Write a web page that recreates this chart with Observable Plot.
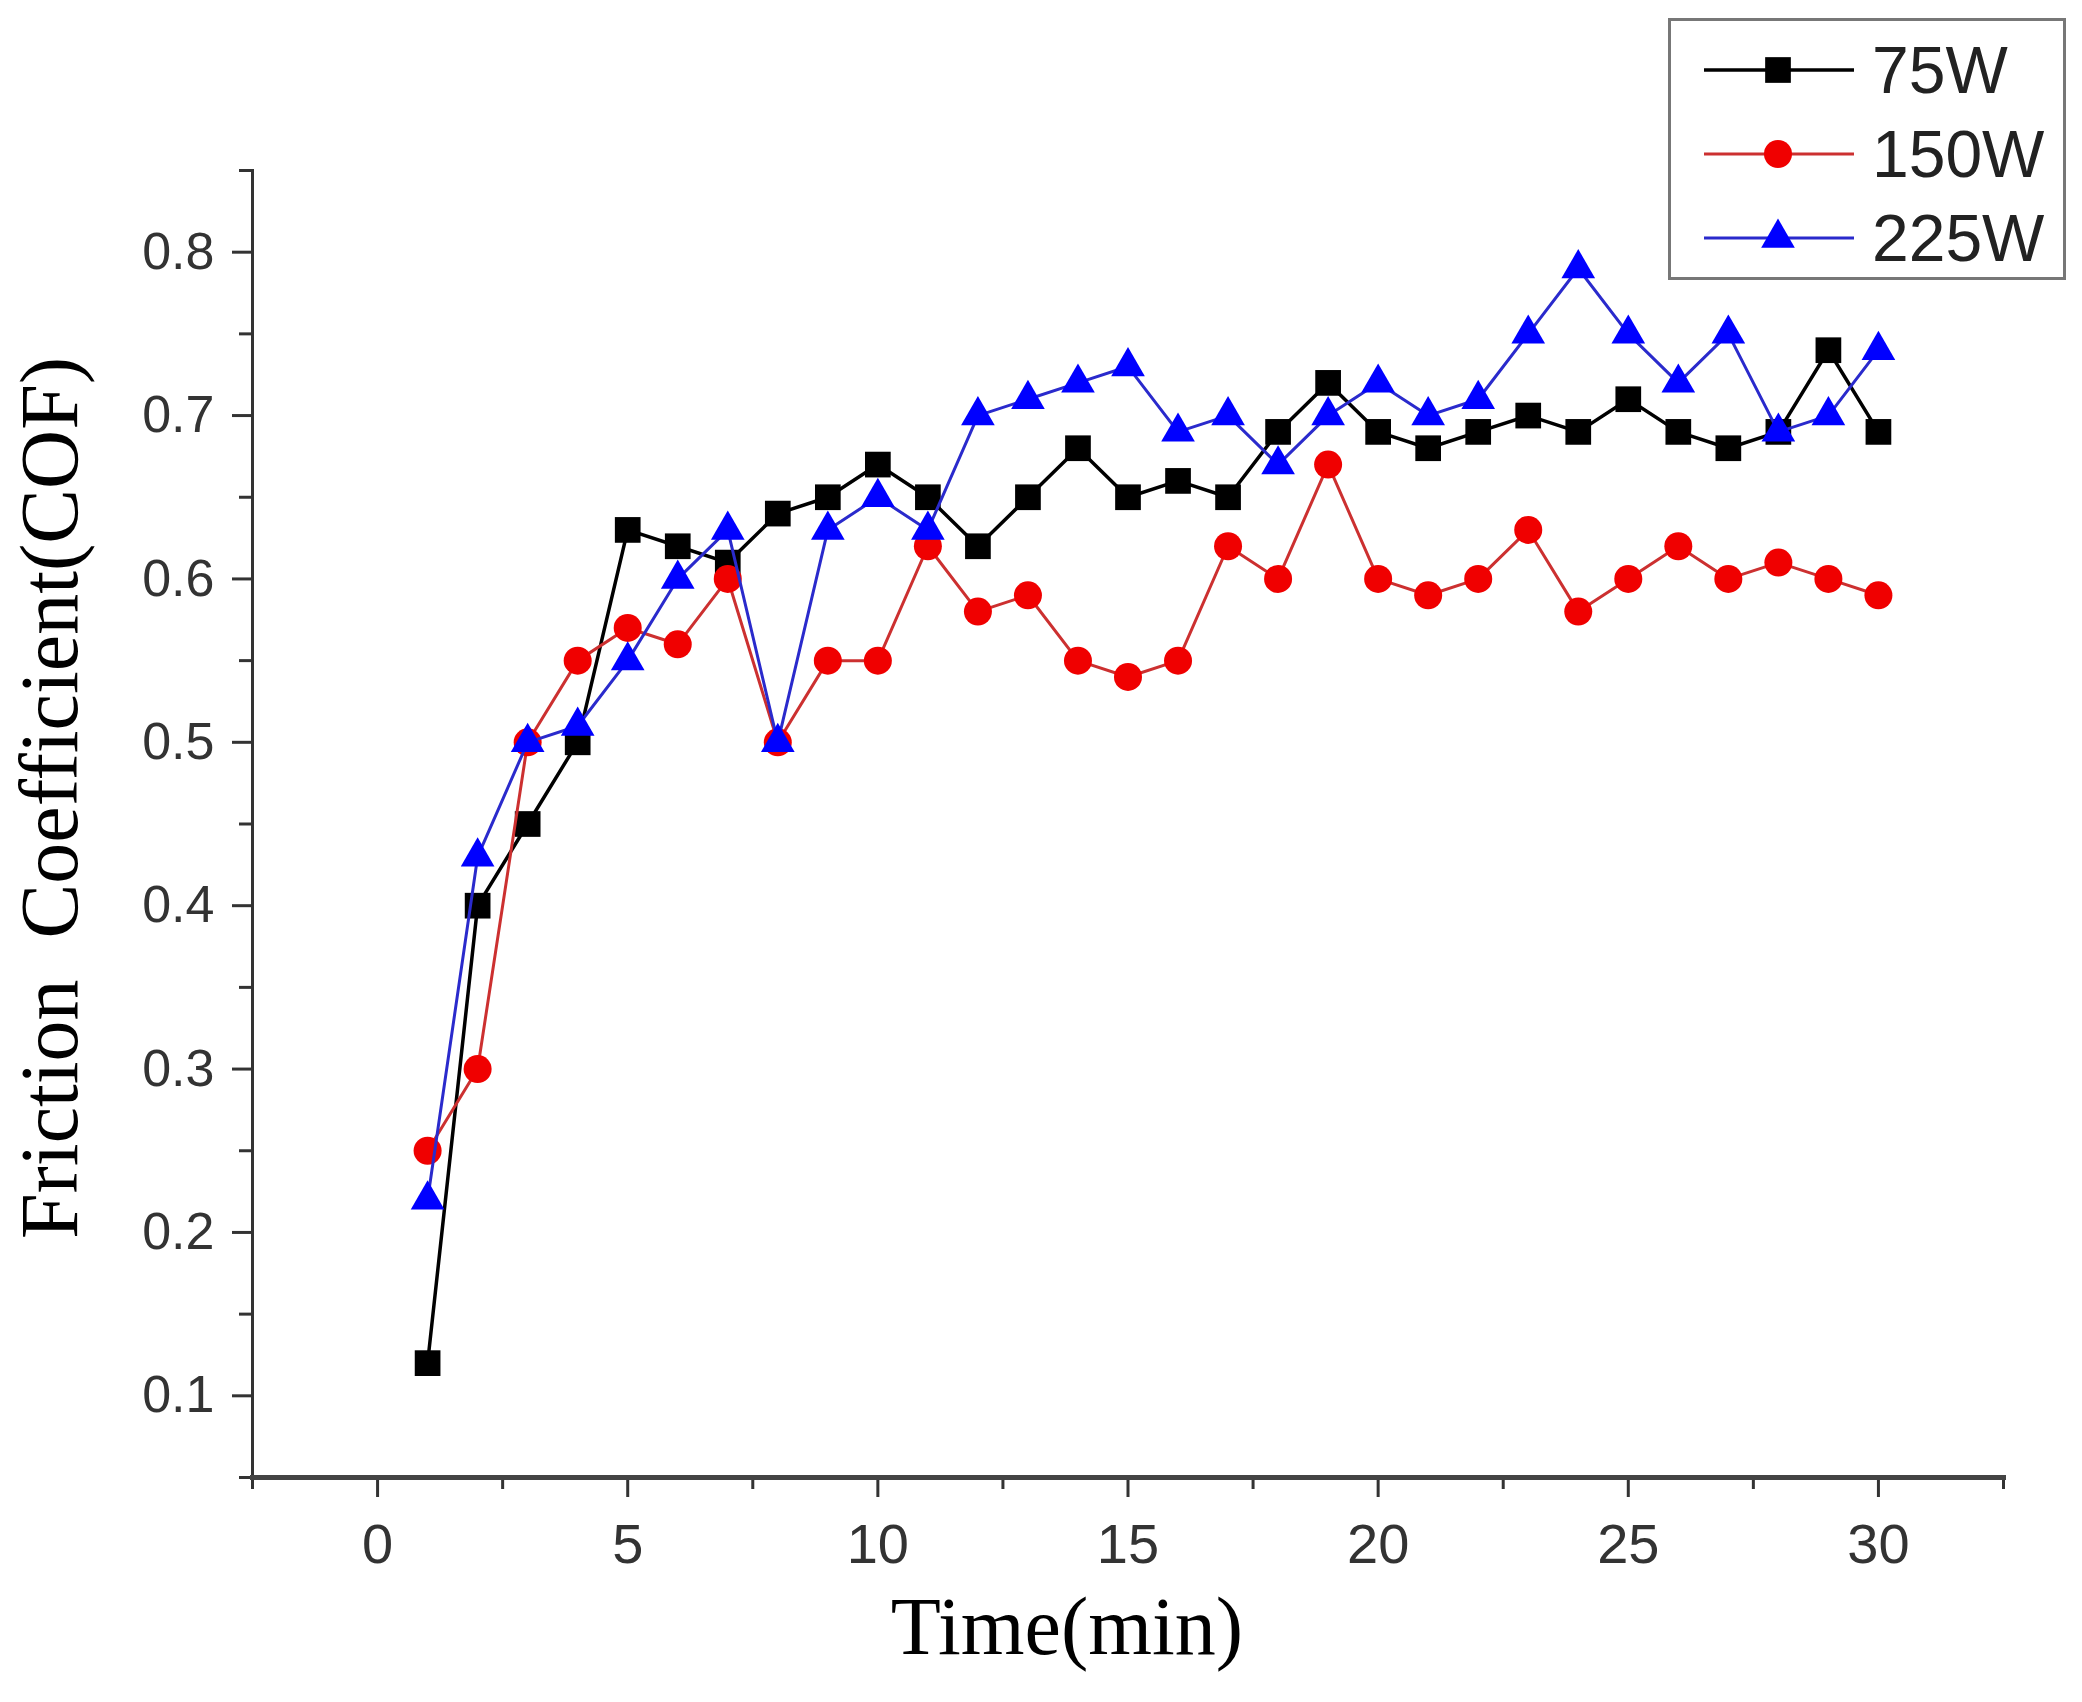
<!DOCTYPE html>
<html><head><meta charset="utf-8">
<script src="https://cdn.jsdelivr.net/npm/d3@7"></script>
<script src="https://cdn.jsdelivr.net/npm/@observablehq/plot@0.6"></script>
<style>
body{margin:0;background:#fff;}
#wrap{position:relative;width:2082px;height:1702px;background:#fff;}
#legend{position:absolute;left:1668px;top:18px;}
</style></head><body><div id="wrap"></div>
<script>
const time = [1,2,3,4,5,6,7,8,9,10,11,12,13,14,15,16,17,18,19,20,21,22,23,24,25,26,27,28,29,30];
const cof75  = [0.12,0.40,0.45,0.50,0.63,0.62,0.61,0.64,0.65,0.67,0.65,0.62,0.65,0.68,0.65,0.66,0.65,0.69,0.72,0.69,0.68,0.69,0.70,0.69,0.71,0.69,0.68,0.69,0.74,0.69];
const cof150 = [0.25,0.30,0.50,0.55,0.57,0.56,0.60,0.50,0.55,0.55,0.62,0.58,0.59,0.55,0.54,0.55,0.62,0.60,0.67,0.60,0.59,0.60,0.63,0.58,0.60,0.62,0.60,0.61,0.60,0.59];
const cof225 = [0.22,0.43,0.50,0.51,0.55,0.60,0.63,0.50,0.63,0.65,0.63,0.70,0.71,0.72,0.73,0.69,0.70,0.67,0.70,0.72,0.70,0.71,0.75,0.79,0.75,0.72,0.75,0.69,0.70,0.74];
const seriesNames = ["75W","150W","225W"];
const xMajorTicks = [0,5,10,15,20,25,30];
const xMinorTicks = [-2.5,2.5,7.5,12.5,17.5,22.5,27.5,32.5];
const yMajorTicks = [0.1,0.2,0.3,0.4,0.5,0.6,0.7,0.8];
const yMinorTicks = [0.05,0.15,0.25,0.35,0.45,0.55,0.65,0.75,0.85];
const xTitle = "Time(min)";
const yTitle = "Friction\u00a0 Coefficient(COF)";

const rows = (vals, name) => time.map((t, i) => ({time: t, cof: vals[i], series: name}));
const styles = [
  {stroke: "#000000", fill: "#000000", symbol: "square", r: 14.5, sw: 3.5},
  {stroke: "#cc3030", fill: "#f00000", symbol: "circle", r: 14, sw: 3},
  {stroke: "#2a2acc", fill: "#0000ff", symbol: "triangle", r: 12.5, sw: 3}
];
const seriesData = [cof75, cof150, cof225];
const series = seriesNames.map((name, i) => ({name, data: rows(seriesData[i], name), ...styles[i]}));

const dataMarks = [];
for (const s of series) {
  dataMarks.push(Plot.line(s.data, {x: "time", y: "cof", stroke: s.stroke, strokeWidth: s.sw}));
  dataMarks.push(Plot.dot(s.data, {x: "time", y: "cof", symbol: s.symbol, r: s.r, fill: s.fill, stroke: "none"}));
}

const sans = "'Liberation Sans', Arial, sans-serif";
const serif = "'Liberation Serif', 'Times New Roman', serif";

const chart = Plot.plot({
  width: 2082, height: 1702,
  marginLeft: 252, marginRight: 79, marginTop: 170, marginBottom: 225,
  x: {domain: [-2.5, 32.5]},
  y: {domain: [0.05, 0.85]},
  style: {background: "#fff", fontFamily: sans, color: "#333"},
  marks: [
    Plot.axisY({ticks: yMajorTicks, tickSize: 20, tickPadding: 18, tickFormat: d3.format(".1f"), fontSize: 52, label: null, strokeWidth: 3, stroke: "#333"}),
    Plot.axisY({ticks: yMinorTicks, tickSize: 13, text: null, label: null, strokeWidth: 3, stroke: "#333"}),
    Plot.axisX({ticks: xMajorTicks, tickSize: 20, tickPadding: 26, fontSize: 56, label: null, strokeWidth: 3, stroke: "#333"}),
    Plot.axisX({ticks: xMinorTicks, tickSize: 12, text: null, label: null, strokeWidth: 3, stroke: "#333"}),
    Plot.frame({anchor: "left", stroke: "#333", strokeWidth: 3}),
    Plot.frame({anchor: "bottom", stroke: "#444", strokeWidth: 5}),
    Plot.text([xTitle], {text: d => d, frameAnchor: "bottom", textAnchor: "middle", dy: 150, dx: -61, fontSize: 82, fontFamily: serif, fill: "#000", lineAnchor: "middle"}),
    Plot.text([yTitle], {text: d => d, frameAnchor: "left", textAnchor: "middle", rotate: -90, dx: -202, dy: -26, fontSize: 82, fontFamily: serif, fill: "#000", lineAnchor: "middle"}),
    ...dataMarks
  ]
});
document.getElementById("wrap").appendChild(chart);

// legend
const symMap = {square: d3.symbolSquare, circle: d3.symbolCircle, triangle: d3.symbolTriangle};
const leg = d3.select("#wrap").append("svg").attr("id", "legend").attr("width", 400).attr("height", 264);
leg.append("rect").attr("x", 1.5).attr("y", 1.5).attr("width", 395).attr("height", 259)
  .attr("fill", "#fff").attr("stroke", "#777").attr("stroke-width", 3);
series.forEach((s, i) => {
  const cy = 52 + i * 84;
  leg.append("line").attr("x1", 36).attr("x2", 186).attr("y1", cy).attr("y2", cy)
    .attr("stroke", s.stroke).attr("stroke-width", s.sw);
  leg.append("path").attr("d", d3.symbol(symMap[s.symbol], Math.PI * s.r * s.r)())
    .attr("transform", `translate(110,${cy})`).attr("fill", s.fill);
  leg.append("text").attr("x", 204).attr("y", cy).attr("dy", "0.35em")
    .attr("font-family", sans).attr("font-size", 66).attr("fill", "#222").text(s.name);
});
</script></body></html>
